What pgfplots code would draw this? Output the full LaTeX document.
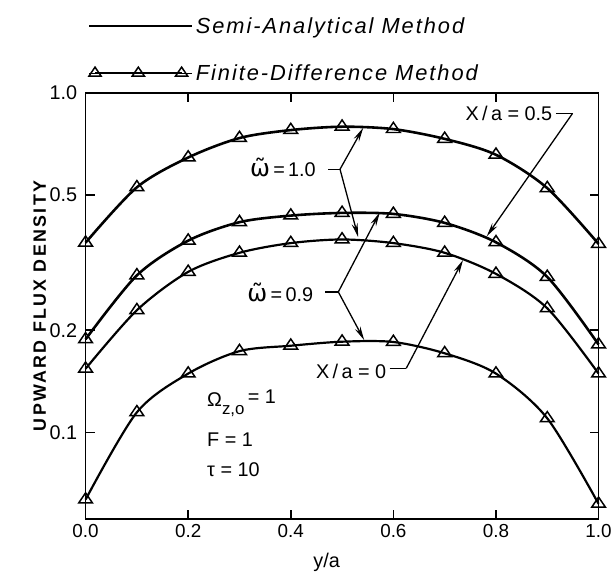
\documentclass[border=0pt]{standalone}
\usepackage{fontspec}
\setmainfont{Liberation Sans}
\newfontfamily\legfont[LetterSpace=9]{Liberation Sans}
\newfontfamily\ylabfont[LetterSpace=13]{Liberation Sans}
\newfontfamily\dejavu{DejaVu Sans}
\usepackage{pgfplots}
\pgfplotsset{compat=1.18}
\usetikzlibrary{arrows.meta}

% one table per curve: y/a, upward flux density
\pgfplotstableread{
x y
0.0 0.362
0.1 0.527
0.2 0.645
0.3 0.736
0.4 0.777
0.5 0.795
0.6 0.782
0.7 0.732
0.8 0.657
0.9 0.524
1.0 0.359
}\wonexhalf
\pgfplotstableread{
x y
0.0 0.188
0.1 0.290
0.2 0.367
0.3 0.416
0.4 0.435
0.5 0.443
0.6 0.440
0.7 0.414
0.8 0.363
0.9 0.287
1.0 0.1815
}\wonexzero
\pgfplotstableread{
x y
0.0 0.154
0.1 0.229
0.2 0.297
0.3 0.338
0.4 0.361
0.5 0.370
0.6 0.361
0.7 0.338
0.8 0.293
0.9 0.232
1.0 0.149
}\wninexhalf
\pgfplotstableread{
x y
0.0 0.0634
0.1 0.1146
0.2 0.149
0.3 0.1735
0.4 0.180
0.5 0.185
0.6 0.1846
0.7 0.171
0.8 0.149
0.9 0.110
1.0 0.0616
}\wninexzero

\pgfplotsset{
  saline/.style={line width=2.6bp, smooth, black},
  fdmark/.style={only marks, mark=triangle, mark size=8bp,
    mark options={fill=white, line width=1.5bp, yscale=0.85}},
}

\begin{document}
\begin{tikzpicture}[font=\fontsize{20}{24}\selectfont]
\begin{axis}[
  scale only axis, width=515.5bp, height=428.2bp,
  xmin=0, xmax=1, ymode=log, ymin=0.0556, ymax=1,
  xtick={0,0.2,0.4,0.6,0.8,1}, xticklabels={0.0,0.2,0.4,0.6,0.8,1.0},
  ytick={0.1,0.2,0.5,1}, yticklabels={0.1,0.2,0.5,1.0},
  minor tick num=0,
  tick align=inside, major tick length=9bp,
  axis line style={line width=1.8bp},
  tick style={line width=1.5bp, black},
  yticklabel style={xshift=-5bp},
  xticklabel style={yshift=-2bp, font=\fontsize{19}{22}\selectfont},
  xlabel={y/a},
  xlabel style={at={(axis description cs:0.47,0)}, anchor=north, yshift=-31bp},
  ylabel={\ylabfont\bfseries\fontsize{18}{20}\selectfont UPWARD FLUX DENSITY},
  ylabel style={at={(axis description cs:-0.0892,0.5)}, anchor=center},
  legend style={at={(axis description cs:0,1)}, anchor=south west,
    draw=none, fill=none, inner sep=0pt, row sep=24bp,
    xshift=2bp, yshift=8bp,
    font=\legfont\itshape\fontsize{22}{26}\selectfont,
    nodes={inner sep=3bp}},
  legend cell align=left,
  clip=false,
]
\addplot[saline, legend image code/.code={\draw[line width=2.6bp] (0bp,0bp) -- (103bp,0bp);}] table {\wonexhalf};
\addlegendentry{Semi-Analytical Method}
\addplot[saline, forget plot] table {\wonexzero};
\addplot[saline, line width=2.2bp, forget plot] table {\wninexhalf};
\addplot[saline, line width=2.2bp, forget plot] table {\wninexzero};

\addplot[fdmark, legend image code/.code={
    \draw[line width=1.8bp] (6bp,0bp) -- (93bp,0bp);
    \path plot[mark=triangle, mark size=7bp, mark options={fill=white, draw=black, line width=1.5bp, yscale=0.85}]
      coordinates {(6bp,0bp) (49.5bp,0bp) (93bp,0bp)};
    \path (0bp,0bp) -- (103bp,0bp);}] table {\wonexhalf};
\addlegendentry{Finite-Difference Method}
\addplot[fdmark, forget plot] table {\wonexzero};
\addplot[fdmark, forget plot] table {\wninexhalf};
\addplot[fdmark, forget plot] table {\wninexzero};

% omega = 1.0 callout
\node[anchor=east, inner sep=0pt] at (axis cs:0.449,0.605) {{\dejavu\fontsize{24}{24}\selectfont ω̃}\,=\,1.0};
\draw[line width=1.3bp] (axis cs:0.4733,0.5957) -- (axis cs:0.496,0.5957);
\draw[line width=1.3bp, -{Stealth[length=14bp,width=6bp]}] (axis cs:0.496,0.5957) -- (axis cs:0.5412,0.789);
\draw[line width=1.3bp, -{Stealth[length=14bp,width=6bp]}] (axis cs:0.496,0.5957) -- (axis cs:0.5315,0.3757);
% omega = 0.9 callout
\node[anchor=east, inner sep=0pt] at (axis cs:0.444,0.259) {{\dejavu\fontsize{24}{24}\selectfont ω̃}\,=\,0.9};
\draw[line width=1.3bp] (axis cs:0.4669,0.2592) -- (axis cs:0.4927,0.2592);
\draw[line width=1.3bp, -{Stealth[length=14bp,width=6bp]}] (axis cs:0.4927,0.2592) -- (axis cs:0.5736,0.4445);
\draw[line width=1.3bp, -{Stealth[length=14bp,width=6bp]}] (axis cs:0.4927,0.2592) -- (axis cs:0.5432,0.1869);
% X/a = 0.5 callout
\node[anchor=east, inner sep=0pt] at (axis cs:0.910,0.8696) {X\,/\,a = 0.5};
\draw[line width=1.3bp] (axis cs:0.9167,0.8696) -- (axis cs:0.9492,0.8696);
\draw[line width=1.3bp, -{Stealth[length=14bp,width=6bp]}] (axis cs:0.9492,0.8696) -- (axis cs:0.782,0.378);
% X/a = 0 callout
\node[anchor=east, inner sep=0pt] at (axis cs:0.5864,0.1512) {X\,/\,a = 0};
\draw[line width=1.3bp] (axis cs:0.5929,0.1544) -- (axis cs:0.6251,0.1544);
\draw[line width=1.3bp, -{Stealth[length=14bp,width=6bp]}] (axis cs:0.6251,0.1544) -- (axis cs:0.7358,0.322);
% parameters
\node[anchor=west, inner sep=0pt] at (axis cs:0.2367,0.1219) {Ω\raisebox{-8bp}{\fontsize{17}{17}\selectfont z,o}\,\raisebox{3bp}{= 1}};
\node[anchor=west, inner sep=0pt] at (axis cs:0.2367,0.0953) {F = 1};
\node[anchor=west, inner sep=0pt] at (axis cs:0.2367,0.0778) {τ = 10};

\coordinate (bl) at (rel axis cs:0,0);
\coordinate (tr) at (rel axis cs:1,1);
\end{axis}
\pgfresetboundingbox
\path[use as bounding box] ([shift={(-86bp,-52.5bp)}]bl) rectangle ([shift={(13.5bp,93.3bp)}]tr);
\end{tikzpicture}
\end{document}
